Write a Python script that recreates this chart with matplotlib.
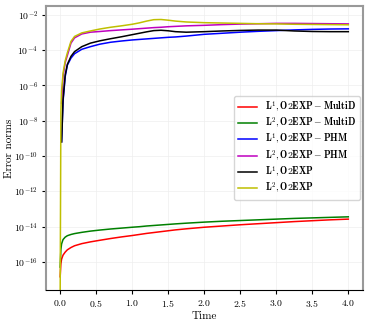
import numpy as np
import matplotlib
matplotlib.use('Agg')
import matplotlib.pyplot as plt

plt.rcParams['font.family'] = 'serif'
plt.rcParams['font.serif'] = ['cmr10']
plt.rcParams['mathtext.fontset'] = 'cm'
plt.rcParams['axes.formatter.use_mathtext'] = True
plt.rcParams['axes.unicode_minus'] = False

# time grid and log10 of the error norms
time = [0, 0.01, 0.02, 0.04, 0.07, 0.1, 0.15, 0.2, 0.3, 0.42, 0.55, 0.7, 0.85, 1.0, 1.1,
        1.2, 1.3, 1.4, 1.5, 1.6, 1.75, 2.0, 2.25, 2.5, 2.75, 3.0, 3.25, 3.5, 3.75, 4.0]
nan = np.nan

l1_multid = [-16.85, -16.1, -15.85, -15.62, -15.45, -15.32, -15.19, -15.09, -14.97, -14.87,
             -14.78, -14.68, -14.59, -14.51, -14.45, -14.39, -14.34, -14.29, -14.24, -14.19,
             -14.13, -14.04, -13.97, -13.9, -13.84, -13.78, -13.72, -13.67, -13.62, -13.58]
l2_multid = [-16.3, -15.3, -14.98, -14.74, -14.6, -14.52, -14.45, -14.4, -14.33, -14.26,
             -14.2, -14.14, -14.09, -14.04, -14.01, -13.97, -13.94, -13.91, -13.88, -13.85,
             -13.81, -13.75, -13.7, -13.66, -13.62, -13.58, -13.54, -13.51, -13.48, -13.45]
l1_phm = [nan, nan, -9.2, -6.9, -5.5, -4.85, -4.45, -4.2, -3.95, -3.8,
          -3.66, -3.55, -3.48, -3.42, -3.39, -3.36, -3.33, -3.3, -3.27, -3.25,
          -3.2, -3.1, -3.04, -2.98, -2.93, -2.89, -2.85, -2.82, -2.8, -2.79]
l2_phm = [nan, nan, -7.0, -5.5, -4.7, -4.3, -3.6, -3.3, -3.08, -2.98,
          -2.94, -2.89, -2.85, -2.81, -2.78, -2.75, -2.72, -2.7, -2.67, -2.65,
          -2.62, -2.59, -2.55, -2.52, -2.5, -2.48, -2.48, -2.49, -2.5, -2.51]
l1_o2exp = [nan, nan, -9.2, -6.8, -5.4, -4.8, -4.35, -4.08, -3.8, -3.6,
            -3.47, -3.35, -3.24, -3.12, -3.04, -2.96, -2.89, -2.87, -2.9, -2.95,
            -2.98, -2.95, -2.91, -2.88, -2.86, -2.86, -2.91, -2.94, -2.95, -2.95]
l2_o2exp = [-18.0, -7.5, -6.3, -5.3, -4.6, -4.15, -3.5, -3.22, -3.02, -2.91,
            -2.8, -2.7, -2.62, -2.53, -2.45, -2.35, -2.27, -2.26, -2.3, -2.35,
            -2.4, -2.44, -2.46, -2.48, -2.5, -2.51, -2.53, -2.54, -2.55, -2.56]

series = [
    (l1_multid, 'r', r'$\mathbf{L^1, O2EXP - MultiD}$'),
    (l2_multid, 'g', r'$\mathbf{L^2, O2EXP - MultiD}$'),
    (l1_phm, 'b', r'$\mathbf{L^1, O2EXP - PHM}$'),
    (l2_phm, 'm', r'$\mathbf{L^2, O2EXP - PHM}$'),
    (l1_o2exp, 'k', r'$\mathbf{L^1, O2EXP}$'),
    (l2_o2exp, 'y', r'$\mathbf{L^2, O2EXP}$'),
]

fig = plt.figure(figsize=(3.69, 3.29), dpi=100)
ax = fig.add_axes([0.124, 0.1185, 0.859, 0.8635])

for vals, col, lab in series:
    ax.plot(time, 10.0 ** np.array(vals), color=col, lw=1.1, label=lab)

ax.set_yscale('log')
ax.set_xlim(-0.2, 4.2)
ax.set_ylim(10 ** -17.6, 10 ** -1.49)
ax.set_yticks([10.0 ** k for k in range(-16, -1, 2)])
ax.minorticks_off()
ax.set_xticks(np.arange(0, 4.01, 0.5))

ax.grid(True, color='#eeeeee', lw=0.5)
for s in ['left', 'top', 'right']:
    ax.spines[s].set_color('#999999')
    ax.spines[s].set_linewidth(1.5)
ax.spines['bottom'].set_color('black')
ax.tick_params(labelsize=7, length=3, width=0.8, color='black', pad=2.5)

ax.set_xlabel('Time', fontsize=8, labelpad=2)
ax.set_ylabel('Error norms', fontsize=8, labelpad=0)
ax.legend(loc='center right', fontsize=7, handlelength=2.0, labelspacing=0.12,
          borderaxespad=0.3, framealpha=0.8)

plt.savefig('out.png', dpi=100)
